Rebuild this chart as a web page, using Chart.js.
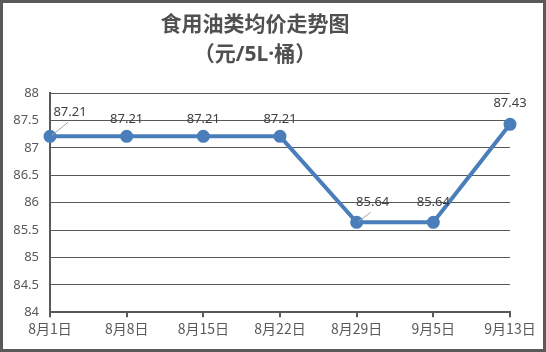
<!DOCTYPE html>
<html>
<head>
<meta charset="utf-8">
<script src="https://cdn.jsdelivr.net/npm/chart.js@4"></script>
<style>
  body { margin: 0; background: #fff; }
  #box { width: 546px; height: 352px; }
</style>
</head>
<body>
<div id="box"><canvas id="myChart" width="546" height="352"></canvas></div>
<script>
// dữ liệu
var labels = ['8月1日', '8月8日', '8月15日', '8月22日', '8月29日', '9月5日', '9月13日'];
var prices = [87.21, 87.21, 87.21, 87.21, 85.64, 85.64, 87.43];
var yTicks = [84, 84.5, 85, 85.5, 86, 86.5, 87, 87.5, 88];

// vị trí nhãn so với điểm (px)
var labelShift = [[20, -24], [0, -17], [0, -17], [0, -17], [16, -20], [0, -20], [0, -21]];
var leader = [true, false, false, false, true, false, false];

var gray = '#595959';

var framePlugin = {
  id: 'frame',
  beforeDraw: function (chart) {
    var ctx = chart.ctx;
    ctx.save();
    ctx.fillStyle = '#fff';
    ctx.fillRect(0, 0, chart.width, chart.height);
    ctx.strokeStyle = gray;
    ctx.lineWidth = 3;
    ctx.strokeRect(1.5, 1.5, chart.width - 3, chart.height - 3);
    ctx.restore();
  }
};

var valueLabels = {
  id: 'valueLabels',
  afterDatasetsDraw: function (chart) {
    var ctx = chart.ctx;
    var pts = chart.getDatasetMeta(0).data;
    ctx.save();
    ctx.font = '13px "Noto Sans"';
    ctx.fillStyle = '#404040';
    ctx.textAlign = 'center';
    ctx.textBaseline = 'middle';
    for (var i = 0; i < pts.length; i++) {
      var x = pts[i].x, y = pts[i].y;
      var lx = x + labelShift[i][0], ly = y + labelShift[i][1];
      if (leader[i]) {
        ctx.strokeStyle = '#a6a6a6';
        ctx.lineWidth = 1;
        ctx.beginPath();
        ctx.moveTo(x + 2, y - 1);
        ctx.lineTo(lx - 2, ly + 10);
        ctx.stroke();
      }
      ctx.fillText(prices[i].toFixed(2), lx, ly);
    }
    ctx.restore();
  }
};

new Chart('myChart', {
  type: 'line',
  data: {
    labels: labels,
    datasets: [{
      data: prices,
      borderColor: '#4a7ebb',
      backgroundColor: '#4a7ebb',
      borderWidth: 4,
      pointRadius: 4.5,
      pointHoverRadius: 4.5,
      tension: 0
    }]
  },
  options: {
    responsive: false,
    animation: false,
    layout: { padding: { left: 0, right: 36, bottom: 12 } },
    plugins: {
      legend: { display: false },
      tooltip: { enabled: false },
      title: {
        display: true,
        text: ['食用油类均价走势图', '（元/5L·桶）'],
        color: '#505050',
        font: { family: '"Noto Sans", "Noto Sans CJK SC"', size: 21, weight: 'bold', lineHeight: 1.43 },
        padding: { top: 10, bottom: 23 }
      }
    },
    scales: {
      x: {
        offset: false,
        grid: { drawOnChartArea: false, drawTicks: true, tickLength: 5, color: gray, lineWidth: 2 },
        border: { color: gray, width: 2 },
        ticks: { color: gray, font: { family: '"Noto Sans CJK SC"', size: 14 }, padding: 3, maxRotation: 0, autoSkip: false }
      },
      y: {
        min: 84,
        max: 88,
        afterBuildTicks: function (scale) {
          scale.ticks = yTicks.map(function (v) { return { value: v }; });
        },
        afterFit: function (scale) { scale.width = 50; },
        grid: { color: gray, lineWidth: 1, drawTicks: false },
        border: { color: gray, width: 2 },
        ticks: {
          color: gray,
          font: { family: '"Noto Sans"', size: 13 },
          padding: 11,
          callback: function (v) { return String(v); }
        }
      }
    }
  },
  plugins: [framePlugin, valueLabels]
});
</script>
</body>
</html>
